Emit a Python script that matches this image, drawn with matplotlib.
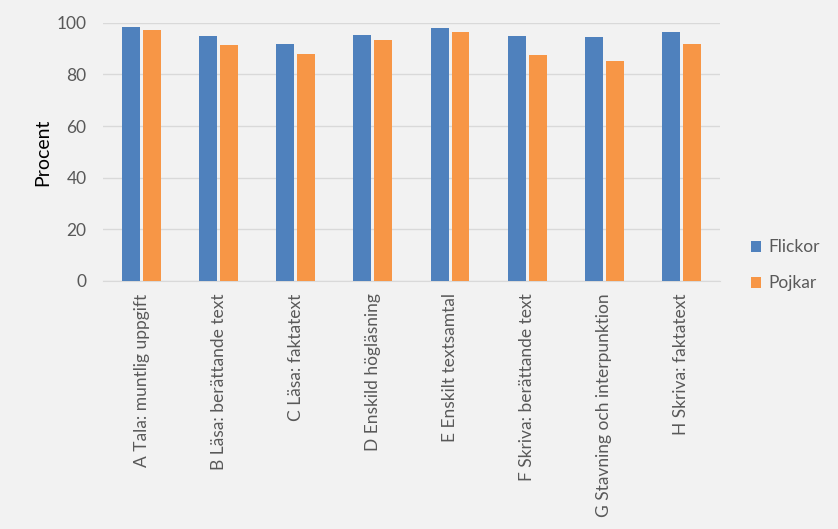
import matplotlib
matplotlib.use("Agg")
import matplotlib.pyplot as plt
import numpy as np

categories = ["A Tala: muntlig uppgift", "B Läsa: berättande text", "C Läsa: faktatext",
              "D Enskild högläsning", "E Enskilt textsamtal", "F Skriva: berättande text",
              "G Stavning och interpunktion", "H Skriva: faktatext"]
flickor = [98.4, 95.0, 91.9, 95.4, 98.0, 95.0, 94.6, 96.5]
pojkar = [97.1, 91.5, 88.0, 93.4, 96.5, 87.6, 85.3, 91.9]
yticks = [0, 20, 40, 60, 80, 100]

plt.rcParams['font.family'] = ['Lato', 'DejaVu Sans']
bg = '#f2f2f2'
fig = plt.figure(figsize=(8.38, 5.29), dpi=100, facecolor=bg)
ax = fig.add_axes([0.123, 0.469, 0.736, 0.488], facecolor=bg)

x = np.arange(len(categories))
w = 0.233
off = 0.136
ax.bar(x - off, flickor, w, color='#4F81BD', label='Flickor', zorder=3)
ax.bar(x + off, pojkar, w, color='#F79646', label='Pojkar', zorder=3)

ax.set_xlim(-0.5, len(categories) - 0.5)
ax.set_ylim(0, 100)
ax.set_yticks(yticks)
ax.yaxis.grid(True, color='#d9d9d9', linewidth=1, zorder=0)
for s in ['top', 'right', 'left']:
    ax.spines[s].set_visible(False)
ax.spines['bottom'].set_color('#d9d9d9')
ax.tick_params(axis='both', length=0, colors='#595959', labelsize=12.5)
ax.tick_params(axis='y', pad=12)
ax.tick_params(axis='x', pad=9)
ax.set_xticks(x)
ax.set_xticklabels(categories, rotation=90)
ax.set_ylabel('Procent', fontsize=14, color='black', labelpad=4)

leg = ax.legend(loc='center left', bbox_to_anchor=(1.025, 0.06), frameon=False,
                handlelength=0.6, handleheight=0.6, labelspacing=1.15, fontsize=12.5,
                handletextpad=0.4)
for t in leg.get_texts():
    t.set_color('#595959')

fig.savefig('out.png', dpi=100, facecolor=bg)
